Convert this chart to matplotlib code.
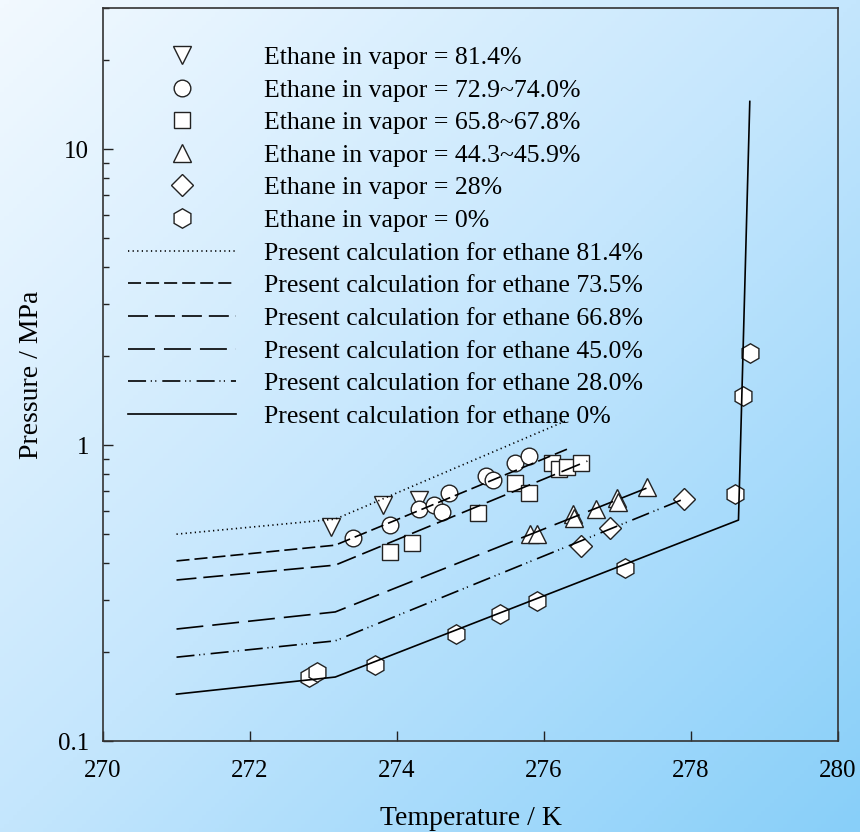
import numpy as np
import matplotlib
matplotlib.use("Agg")
import matplotlib.pyplot as plt
from matplotlib.colors import LinearSegmentedColormap

plt.rcParams["font.family"] = ["Liberation Serif", "DejaVu Serif"]
plt.rcParams["lines.scale_dashes"] = False

# =========================
# data
# =========================
# experimental points, T in K, P in MPa
t_814 = [273.10, 273.81, 274.30]
p_814 = [0.528, 0.627, 0.652]

t_735 = [273.40, 273.90, 274.30, 274.50, 274.61, 274.71, 275.21, 275.31, 275.61, 275.80]
p_735 = [0.485, 0.537, 0.608, 0.627, 0.594, 0.688, 0.785, 0.762, 0.869, 0.918]

t_668 = [273.90, 274.20, 275.10, 275.61, 275.80, 276.11, 276.20, 276.31, 276.50]
p_668 = [0.435, 0.467, 0.589, 0.744, 0.688, 0.869, 0.830, 0.843, 0.869]

t_450 = [275.81, 275.90, 276.39, 276.41, 276.71, 276.99, 277.01, 277.40]
p_450 = [0.500, 0.500, 0.585, 0.567, 0.608, 0.662, 0.642, 0.721]

t_280 = [276.50, 276.90, 277.90]
p_280 = [0.456, 0.524, 0.657]

t_000 = [272.80, 272.91, 273.70, 274.80, 275.40, 275.90, 277.10, 278.60, 278.71, 278.80]
p_000 = [0.1645, 0.171, 0.181, 0.230, 0.269, 0.297, 0.384, 0.683, 1.46, 2.05]

# calculated curves
tc_814 = [271.0, 273.16, 276.29]
pc_814 = [0.500, 0.562, 1.205]

tc_735 = [271.0, 273.16, 276.35]
pc_735 = [0.406, 0.459, 0.977]

tc_668 = [271.0, 273.16, 276.59]
pc_668 = [0.350, 0.393, 0.883]

tc_450 = [271.0, 273.16, 277.40]
pc_450 = [0.239, 0.273, 0.716]

tc_280 = [271.0, 273.16, 277.90]
pc_280 = [0.192, 0.218, 0.657]

tc_000 = [271.0, 273.16, 278.646, 278.80]
pc_000 = [0.144, 0.1645, 0.558, 14.5]

# =========================
# figure + gradient background
# =========================
fig = plt.figure(figsize=(8.6, 8.32), dpi=100)
bg = fig.add_axes([0, 0, 1, 1], zorder=-10)
bg.set_axis_off()
xx, yy = np.meshgrid(np.linspace(0, 1, 200), np.linspace(0, 1, 200))
g = (xx + yy) / 2.0
cmap = LinearSegmentedColormap.from_list("bg", ["#f2f9ff", "#c4e6fd", "#88cff9"])
bg.imshow(g, cmap=cmap, aspect="auto", extent=[0, 1, 0, 1], origin="upper")

ax = fig.add_axes([103 / 860, 1 - 741 / 832, (838 - 103) / 860, (741 - 8) / 832])
ax.set_facecolor("none")

mk = dict(linestyle="none", markerfacecolor="white", markeredgecolor="#222222",
          markeredgewidth=1.0)
h1, = ax.plot(t_814, p_814, marker="v", ms=13, **mk)
h2, = ax.plot(t_735, p_735, marker="o", ms=12, **mk)
h3, = ax.plot(t_668, p_668, marker="s", ms=11, **mk)
h4, = ax.plot(t_450, p_450, marker="^", ms=13, **mk)
h5, = ax.plot(t_280, p_280, marker="D", ms=11, **mk)
h6, = ax.plot(t_000, p_000, marker="h", ms=14, **mk)

lw = 1.2
l1, = ax.plot(tc_814, pc_814, color="black", lw=lw, ls=(0, (0.9, 2.4)))
l2, = ax.plot(tc_735, pc_735, color="black", lw=lw, ls=(0, (9.4, 3.6)))
l3, = ax.plot(tc_668, pc_668, color="black", lw=lw, ls=(0, (14.4, 5.0)))
l4, = ax.plot(tc_450, pc_450, color="black", lw=lw, ls=(0, (19.4, 6.5)))
l5, = ax.plot(tc_280, pc_280, color="black", lw=lw,
              ls=(0, (13, 3.4, 0.8, 2.4, 0.8, 4.3)))
l6, = ax.plot(tc_000, pc_000, color="black", lw=lw, ls="-")

ax.set_yscale("log")
ax.set_xlim(270, 280)
ax.set_ylim(0.1, 30)
ax.set_xticks([270, 272, 274, 276, 278, 280])
ax.set_yticks([0.1, 1, 10])
ax.set_yticklabels(["0.1", "1", "10"])
ax.tick_params(which="both", direction="in", labelsize=18, colors="#222222",
               labelcolor="black")
ax.tick_params(which="major", length=7, width=1)
ax.tick_params(which="minor", length=4, width=1)
ax.tick_params(axis="x", pad=14)
ax.tick_params(axis="y", pad=10)
for s in ax.spines.values():
    s.set_color("#333333")
    s.set_linewidth(1.2)

ax.set_xlabel("Temperature / K", fontsize=20, labelpad=17)
ax.set_ylabel("Pressure / MPa", fontsize=20, labelpad=10)

handles = [h1, h2, h3, h4, h5, h6, l1, l2, l3, l4, l5, l6]
labels = ["Ethane in vapor = 81.4%",
          "Ethane in vapor = 72.9~74.0%",
          "Ethane in vapor = 65.8~67.8%",
          "Ethane in vapor = 44.3~45.9%",
          "Ethane in vapor = 28%",
          "Ethane in vapor = 0%",
          "Present calculation for ethane 81.4%",
          "Present calculation for ethane 73.5%",
          "Present calculation for ethane 66.8%",
          "Present calculation for ethane 45.0%",
          "Present calculation for ethane 28.0%",
          "Present calculation for ethane 0%"]
leg = fig.legend(handles, labels, loc="upper left",
                 bbox_to_anchor=(128 / 860, 1 - 46 / 832),
                 frameon=False, fontsize=18.5, numpoints=1,
                 handlelength=4.2, handletextpad=1.1, labelspacing=0.375,
                 borderpad=0, borderaxespad=0)

fig.savefig("out.png", dpi=100)
